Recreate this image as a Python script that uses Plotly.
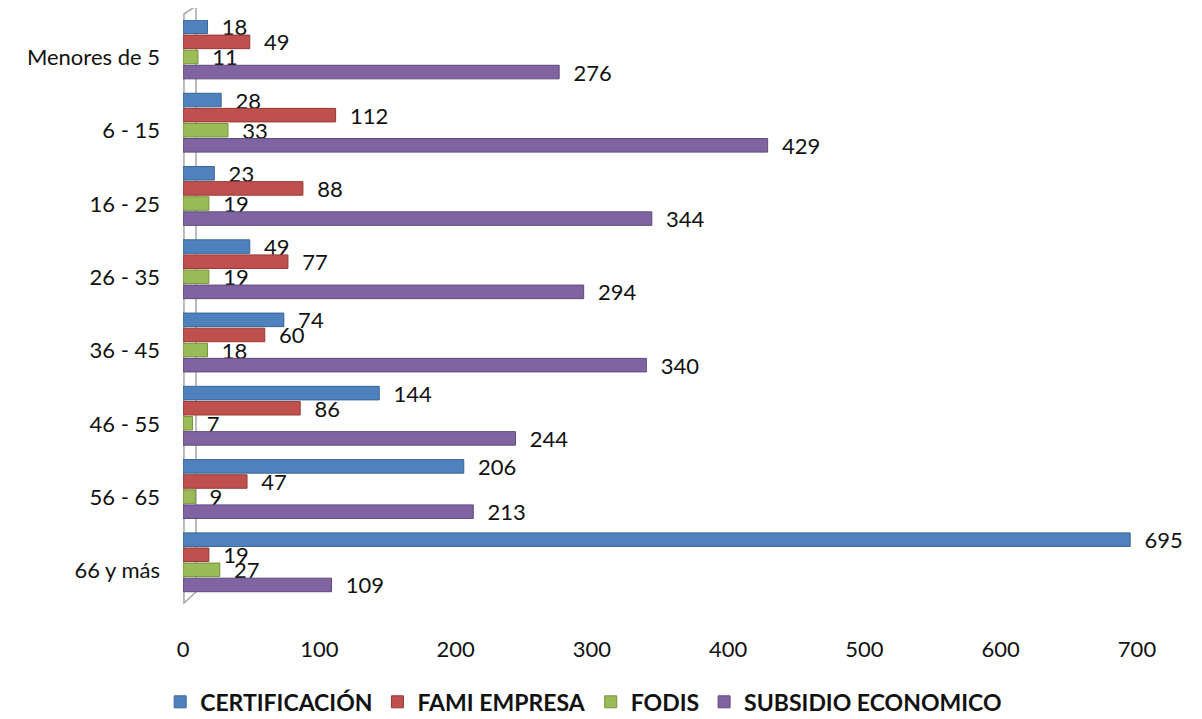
import plotly.graph_objects as go

categories = ["Menores de 5", "6 - 15", "16 - 25", "26 - 35", "36 - 45", "46 - 55", "56 - 65", "66 y más"]
certificacion = [18, 28, 23, 49, 74, 144, 206, 695]
fami_empresa = [49, 112, 88, 77, 60, 86, 47, 19]
fodis = [11, 33, 19, 19, 18, 7, 9, 27]
subsidio = [276, 429, 344, 294, 340, 244, 213, 109]
x_ticks = [0, 100, 200, 300, 400, 500, 600, 700]

series = [
    ("CERTIFICACIÓN", certificacion, "#4F81BD", "#3A6596"),
    ("FAMI EMPRESA", fami_empresa, "#C0504D", "#953B39"),
    ("FODIS", fodis, "#9BBB59", "#76923C"),
    ("SUBSIDIO ECONOMICO", subsidio, "#8064A2", "#5F4A7B"),
]

pitch = 0.206
bar_w = 0.185
shift = -0.11

fig = go.Figure()
for i, (name, vals, col, edge) in enumerate(series):
    center = shift + (i - 1.5) * pitch
    fig.add_trace(go.Bar(
        y=categories, x=vals, name=name, orientation="h",
        width=bar_w, offset=center - bar_w / 2,
        marker=dict(color=col, line=dict(color=edge, width=1)),
        text=["  " + str(v) for v in vals], textposition="outside",
        textfont=dict(family="Lato", size=22, color="#111111"),
        constraintext="none",
        cliponaxis=False,
    ))

# thin 3D-style wall behind the category axis
fig.add_shape(type="path", xref="paper", yref="paper", layer="below",
              path="M 0.001,0.0068 L 0.001,1.0102 L 0.0136,1.0239 L 0.0136,0.0256 Z",
              line=dict(color="#A6A6A6", width=1.5), fillcolor="rgba(0,0,0,0)")

fig.update_layout(
    width=1202, height=719,
    barmode="group",
    plot_bgcolor="white", paper_bgcolor="white",
    margin=dict(l=175, r=73, t=12, b=120, autoexpand=False),
    font=dict(family="Lato", size=20, color="#111111"),
    showlegend=True,
    legend=dict(orientation="h", x=0.42, xanchor="center", y=-0.125, yanchor="top",
                font=dict(family="Lato", size=23, color="#111111", weight="bold"),
                itemwidth=30, traceorder="normal"),
)
fig.update_xaxes(range=[0, 700], tickvals=x_ticks, showgrid=False, zeroline=False,
                 showline=False, ticks="", ticklabelstandoff=27, automargin=False,
                 tickfont=dict(family="Lato", size=22, color="#111111"))
fig.update_yaxes(autorange="reversed", showgrid=False, showline=False,
                 ticks="", ticklabelstandoff=22, automargin=False,
                 tickfont=dict(family="Lato", size=22, color="#111111"))

fig.write_html("out.html")
